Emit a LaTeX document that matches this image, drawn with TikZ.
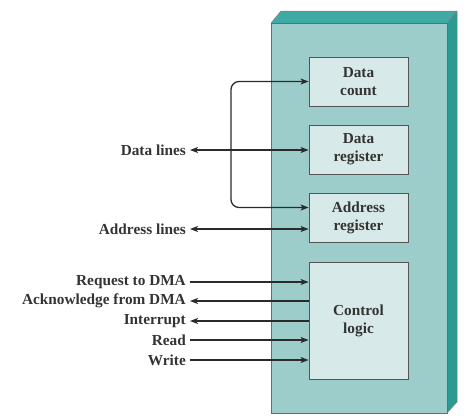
\documentclass[tikz,border=0pt]{standalone}
\usepackage{fontspec}
\setmainfont{Liberation Serif}
\usetikzlibrary{arrows.meta}
\definecolor{frontc}{HTML}{9DCDCB}
\definecolor{topc}{HTML}{3FA9A3}
\definecolor{sidec}{HTML}{2B9A93}
\definecolor{innerc}{HTML}{D7EAE9}
\definecolor{ink}{HTML}{2B2B2B}
\definecolor{textc}{HTML}{333333}
\begin{document}
\begin{tikzpicture}[x=1pt,y=-1pt,
  txt/.style={font=\fontsize{15.3}{18}\selectfont\bfseries, text=textc},
  regbox/.style={txt, draw=ink!80, fill=innerc, line width=0.8pt, minimum width=99pt, align=center, inner sep=0pt},
  lbl/.style={txt, anchor=east, inner sep=2pt},
  conn/.style={draw=ink, line width=1.3pt, -{Stealth[length=8pt,width=6pt,inset=2pt]}},
  bconn/.style={draw=ink, line width=1.3pt, {Stealth[length=8pt,width=6pt,inset=2pt]}-{Stealth[length=8pt,width=6pt,inset=2pt]}}]
\useasboundingbox (0,0) rectangle (466,418);
% box faces
\fill[topc] (271,23) -- (281,11) -- (457,11) -- (447,23) -- cycle;
\fill[sidec] (447,23) -- (457,11) -- (457,402) -- (447,413) -- cycle;
\draw[fill=frontc, draw=ink!70, line width=0.6pt] (271,23) rectangle (447,413);
\draw[draw=ink!60, line width=0.5pt] (271,23) -- (281,11) -- (457,11) -- (447,23) (457,11) -- (457,402) -- (447,413);
% registers
\node[regbox, minimum height=49pt] (dcount) at (358.5,81.5) {Data\\count};
\node[regbox, minimum height=49pt] (dreg) at (358.5,149.5) {Data\\register};
\node[regbox, minimum height=49pt] (areg) at (358.5,217.5) {Address\\register};
\node[regbox, minimum height=117pt] (cl) at (358.5,320.5) {Control\\logic};
% labels
\node[lbl] (dl) at (188,150) {Data lines};
\node[lbl] (al) at (188,229) {Address lines};
\node[lbl] (rq) at (188,282) {Request to DMA};
\node[lbl] (ak) at (188,301) {Acknowledge from DMA};
\node[lbl] (ir) at (188,321) {Interrupt};
\node[lbl] (rd) at (188,340) {Read};
\node[lbl] (wr) at (188,360) {Write};
% connectors
\draw[bconn] ([xshift=2pt]dl.east) -- (dl.east -| dreg.west);
\coordinate (bx) at (231,150);
\draw[conn, rounded corners=8pt] (bx) |- (dcount.west);
\draw[conn, rounded corners=8pt] (bx) |- ([yshift=10pt]areg.west);
\draw[bconn] ([xshift=2pt]al.east) -- (al.east -| areg.west);
\draw[conn] ([xshift=2pt]rq.east) -- (rq.east -| cl.west);
\draw[conn] (ak.east -| cl.west) -- ([xshift=2pt]ak.east);
\draw[conn] (ir.east -| cl.west) -- ([xshift=2pt]ir.east);
\draw[conn] ([xshift=2pt]rd.east) -- (rd.east -| cl.west);
\draw[conn] ([xshift=2pt]wr.east) -- (wr.east -| cl.west);
\end{tikzpicture}
\end{document}
